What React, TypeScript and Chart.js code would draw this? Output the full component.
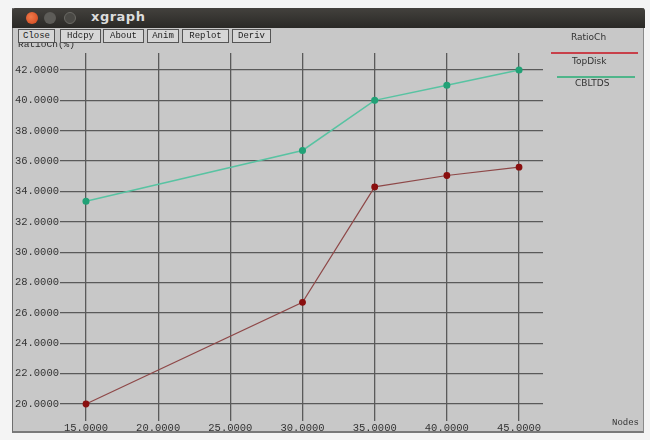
import React, { useEffect, useRef } from "react";
import { Chart, registerables } from "chart.js";

Chart.register(...registerables);

const nodes = [15, 30, 35, 40, 45];
const topDisk = [20.0, 26.7, 34.3, 35.05, 35.6];
const cbltds = [33.35, 36.7, 40.0, 41.0, 42.0];
const xTicks = [15, 20, 25, 30, 35, 40, 45];
const yTicks = [20, 22, 24, 26, 28, 30, 32, 34, 36, 38, 40, 42];
const seriesNames = ["TopDisk", "CBLTDS"];
const buttons = ["Close", "Hdcpy", "About", "Anim", "Replot", "Deriv"];

const RED_LINE = "#8e4848";
const RED_PT = "#8a0f0f";
const GREEN_LINE = "#58c3a2";
const GREEN_PT = "#22a277";
const GRID = "#5a5a5a";
const MONO = "'Liberation Mono', 'DejaVu Sans Mono', monospace";

export default function App() {
  const ref = useRef<HTMLCanvasElement | null>(null);

  useEffect(() => {
    if (!ref.current) return;
    const chart = new Chart(ref.current, {
      type: "line",
      data: {
        datasets: [
          {
            label: seriesNames[0],
            data: nodes.map((x, i) => ({ x, y: topDisk[i] })),
            borderColor: RED_LINE,
            backgroundColor: RED_PT,
            pointBackgroundColor: RED_PT,
            pointBorderColor: RED_PT,
            pointRadius: 2.8,
            borderWidth: 1.2,
            tension: 0,
          },
          {
            label: seriesNames[1],
            data: nodes.map((x, i) => ({ x, y: cbltds[i] })),
            borderColor: GREEN_LINE,
            backgroundColor: GREEN_PT,
            pointBackgroundColor: GREEN_PT,
            pointBorderColor: GREEN_PT,
            pointRadius: 2.8,
            borderWidth: 1.5,
            tension: 0,
          },
        ],
      },
      options: {
        animation: false,
        responsive: false,
        devicePixelRatio: 1,
        layout: { padding: { top: 53, right: 107, left: 0, bottom: 0 } },
        plugins: { legend: { display: false }, tooltip: { enabled: false } },
        scales: {
          x: {
            type: "linear",
            min: 13.2,
            max: 46.66,
            afterBuildTicks: (s: any) => {
              s.ticks = xTicks.map((v) => ({ value: v }));
            },
            afterFit: (s: any) => {
              s.height = 19;
            },
            ticks: {
              callback: (v: any) => Number(v).toFixed(4),
              font: { family: MONO, size: 10.5 },
              color: "#333",
              padding: 1,
              maxRotation: 0,
              autoSkip: false,
            },
            grid: { color: GRID, lineWidth: 1.3, drawTicks: false },
            border: { display: false },
          },
          y: {
            type: "linear",
            min: 18.88,
            max: 43.12,
            afterBuildTicks: (s: any) => {
              s.ticks = yTicks.map((v) => ({ value: v }));
            },
            afterFit: (s: any) => {
              s.width = 60;
            },
            ticks: {
              callback: (v: any) => Number(v).toFixed(4),
              font: { family: MONO, size: 10.5 },
              color: "#333",
              padding: 1,
              autoSkip: false,
            },
            grid: { color: GRID, lineWidth: 1.3, drawTicks: false },
            border: { display: false },
          },
        },
      },
    });
    return () => chart.destroy();
  }, []);

  const btnX = [18, 60, 103, 147, 182, 232];
  const btnW = [35, 39, 39, 30, 45, 37];

  return (
    <div
      style={{
        position: "absolute",
        left: 0,
        top: 0,
        width: 650,
        height: 440,
        background: "#f4f4f4",
        overflow: "hidden",
        fontFamily: "'DejaVu Sans', sans-serif",
      }}
    >
      <div
        style={{
          position: "absolute",
          left: 12,
          top: 8,
          width: 632,
          height: 425,
          background: "#c8c8c8",
          borderLeft: "1px solid #6e6e6e",
          borderRight: "1px solid #8a8a8a",
          borderBottom: "2px solid #7a7a7a",
          boxSizing: "border-box",
        }}
      />
      <div
        style={{
          position: "absolute",
          left: 12,
          top: 8,
          width: 633,
          height: 20,
          background: "linear-gradient(#43413d, #2a2926)",
          borderRadius: "3px 3px 0 0",
        }}
      />
      <div style={{ position: "absolute", left: 26, top: 12, width: 12, height: 12, borderRadius: 6, background: "radial-gradient(circle at 40% 40%, #f07a4a, #d0451c)" }} />
      <div style={{ position: "absolute", left: 44, top: 12, width: 12, height: 12, borderRadius: 6, background: "#5d5c58" }} />
      <div style={{ position: "absolute", left: 64, top: 12, width: 10, height: 10, borderRadius: 6, border: "1px solid #6a6964", background: "#4a4945" }} />
      <div style={{ position: "absolute", left: 91, top: 9, color: "#dcdcdc", fontWeight: "bold", fontSize: 13, letterSpacing: 0.5 }}>xgraph</div>

      {buttons.map((b, i) => (
        <div
          key={b}
          style={{
            position: "absolute",
            left: btnX[i],
            top: 29,
            width: btnW[i],
            height: 12,
            border: "1px solid #555",
            background: "#d6d6d6",
            fontFamily: MONO,
            fontSize: 9,
            lineHeight: "12px",
            textAlign: "center",
            color: "#222",
            boxSizing: "content-box",
            zIndex: 3,
          }}
        >
          {b}
        </div>
      ))}

      <canvas
        ref={ref}
        width={650}
        height={440}
        style={{ position: "absolute", left: 0, top: 0, width: 650, height: 440, zIndex: 1 }}
      />

      <div style={{ position: "absolute", left: 18, top: 39, fontFamily: MONO, fontSize: 9.5, color: "#2a2a2a", zIndex: 2 }}>RatioCh(%)</div>

      <div style={{ position: "absolute", left: 571, top: 32, fontSize: 9, color: "#333", zIndex: 2 }}>RatioCh</div>
      <div style={{ position: "absolute", left: 551, top: 52, width: 87, height: 1.5, background: "#c8404a", zIndex: 2 }} />
      <div style={{ position: "absolute", left: 572, top: 56, fontSize: 9, color: "#333", zIndex: 2 }}>{seriesNames[0]}</div>
      <div style={{ position: "absolute", left: 557, top: 76, width: 78, height: 1.5, background: "#4fb58a", zIndex: 2 }} />
      <div style={{ position: "absolute", left: 575, top: 78, fontSize: 9, color: "#333", zIndex: 2 }}>{seriesNames[1]}</div>

      <div style={{ position: "absolute", left: 612, top: 418, fontFamily: MONO, fontSize: 9, color: "#333", zIndex: 2 }}>Nodes</div>
    </div>
  );
}
